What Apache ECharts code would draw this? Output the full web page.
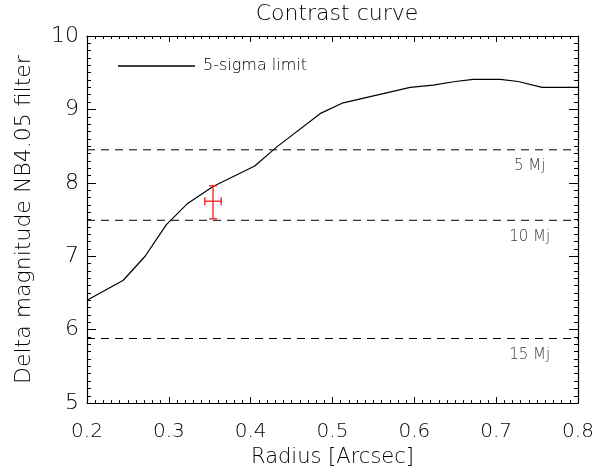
<!DOCTYPE html>
<html>
<head>
<meta charset="utf-8">
<script src="https://cdn.jsdelivr.net/npm/echarts@6/dist/echarts.min.js"></script>
<style>
  html, body { margin: 0; padding: 0; background: #fff; }
  #main { width: 616px; height: 473px; }
</style>
</head>
<body>
<div id="main"></div>
<script>
// contrast curve (5-sigma limit)
var radius = [0.2, 0.244, 0.271, 0.297, 0.323, 0.354, 0.405, 0.432, 0.486, 0.513, 0.595, 0.623, 0.650, 0.672, 0.705, 0.727, 0.756, 0.8];
var deltaMag = [6.40, 6.67, 7.00, 7.43, 7.72, 7.95, 8.23, 8.49, 8.95, 9.09, 9.30, 9.33, 9.38, 9.41, 9.41, 9.38, 9.30, 9.30];

// mass limits (horizontal dashed lines)
var massNames = ['5 Mj', '10 Mj', '15 Mj'];
var massLevels = [8.45, 7.49, 5.88];

// detected companion with error bars
var pointX = 0.354, pointY = 7.75;
var pointXErr = [0.344, 0.364];
var pointYErr = [7.51, 7.96];

var curveData = radius.map(function (r, i) { return [r, deltaMag[i]]; });

var fontName = 'DejaVu Sans';
var thin = 200;
var series = [
  {
    name: '5-sigma limit',
    type: 'line',
    data: curveData,
    symbol: 'none',
    lineStyle: { color: '#000', width: 1.2 },
    itemStyle: { color: '#000' },
    z: 3
  }
];

massLevels.forEach(function (lvl, i) {
  series.push({
    name: massNames[i],
    type: 'line',
    data: [[0.2, lvl], [0.8, lvl]],
    symbol: 'none',
    lineStyle: { color: '#000', width: 1, type: [8, 6] },
    silent: true,
    z: 2
  });
});

series.push({
  name: 'mass labels',
  type: 'scatter',
  symbolSize: 0,
  data: massLevels.map(function (lvl, i) { return { value: [0.741, lvl], name: massNames[i] }; }),
  label: {
    show: true,
    formatter: '{b}',
    position: 'bottom',
    distance: 9,
    color: '#000',
    fontFamily: fontName,
    fontWeight: thin,
    fontSize: 15
  },
  silent: true
});

series.push({
  name: 'companion',
  type: 'custom',
  data: [[pointX, pointY, pointXErr[0], pointXErr[1], pointYErr[0], pointYErr[1]]],
  renderItem: function (params, api) {
    var c = api.coord([api.value(0), api.value(1)]);
    var xl = api.coord([api.value(2), api.value(1)]);
    var xh = api.coord([api.value(3), api.value(1)]);
    var yl = api.coord([api.value(0), api.value(4)]);
    var yh = api.coord([api.value(0), api.value(5)]);
    var st = { stroke: '#f01818', lineWidth: 1.3 };
    var cap = 4;
    return {
      type: 'group',
      children: [
        { type: 'line', shape: { x1: yl[0], y1: yl[1], x2: yh[0], y2: yh[1] }, style: st },
        { type: 'line', shape: { x1: yl[0] - cap, y1: yl[1], x2: yl[0] + cap, y2: yl[1] }, style: st },
        { type: 'line', shape: { x1: yh[0] - cap, y1: yh[1], x2: yh[0] + cap, y2: yh[1] }, style: st },
        { type: 'line', shape: { x1: xl[0], y1: xl[1], x2: xh[0], y2: xh[1] }, style: st },
        { type: 'line', shape: { x1: xl[0], y1: c[1] - cap, x2: xl[0], y2: c[1] + cap }, style: st },
        { type: 'line', shape: { x1: xh[0], y1: c[1] - cap, x2: xh[0], y2: c[1] + cap }, style: st }
      ]
    };
  },
  z: 4
});

var axisLine = { show: true, onZero: false, lineStyle: { color: '#000', width: 1.2 } };
var chart = echarts.init(document.getElementById('main'));
var option = {
  backgroundColor: '#fff',
  animation: false,
  title: {
    text: 'Contrast curve',
    left: 332,
    textAlign: 'center',
    top: -2,
    textStyle: { fontFamily: fontName, fontWeight: thin, fontSize: 22, color: '#000' }
  },
  legend: {
    data: [{ name: '5-sigma limit', icon: 'rect' }],
    left: 113,
    top: 53,
    itemWidth: 77,
    itemHeight: 1.3,
    itemStyle: { color: '#000' },
    textStyle: { fontFamily: fontName, fontWeight: thin, fontSize: 16, color: '#000', padding: [0, 0, 0, 3] }
  },
  grid: { left: 87, right: 38, top: 36, bottom: 66 },
  xAxis: [
    {
      type: 'value', min: 0.2, max: 0.8, interval: 0.1,
      name: 'Radius [Arcsec]', nameLocation: 'middle', nameGap: 37,
      nameTextStyle: { fontFamily: fontName, fontWeight: thin, fontSize: 21, color: '#000' },
      axisLine: axisLine,
      axisTick: { inside: true, length: 6, lineStyle: { color: '#000' } },
      minorTick: { show: true, splitNumber: 10, length: 3, lineStyle: { color: '#000' } },
      axisLabel: { fontFamily: fontName, fontWeight: thin, fontSize: 20, color: '#000', margin: 19,
        formatter: function (v) { return v.toFixed(1); } },
      splitLine: { show: false }
    },
    {
      type: 'value', min: 0.2, max: 0.8, interval: 0.1, position: 'top',
      axisLine: axisLine,
      axisTick: { inside: true, length: 6, lineStyle: { color: '#000' } },
      minorTick: { show: true, splitNumber: 10, length: 3, lineStyle: { color: '#000' } },
      axisLabel: { show: false },
      splitLine: { show: false }
    }
  ],
  yAxis: [
    {
      type: 'value', min: 5, max: 10, interval: 1,
      name: 'Delta magnitude NB4.05 filter', nameLocation: 'middle', nameGap: 52,
      nameTextStyle: { fontFamily: fontName, fontWeight: thin, fontSize: 22, color: '#000' },
      axisLine: axisLine,
      axisTick: { inside: true, length: 9, lineStyle: { color: '#000' } },
      minorTick: { show: true, splitNumber: 10, length: 4, lineStyle: { color: '#000' } },
      axisLabel: { fontFamily: fontName, fontWeight: thin, fontSize: 22, color: '#000', margin: 8 },
      splitLine: { show: false }
    },
    {
      type: 'value', min: 5, max: 10, interval: 1, position: 'right',
      axisLine: axisLine,
      axisTick: { inside: true, length: 9, lineStyle: { color: '#000' } },
      minorTick: { show: true, splitNumber: 10, length: 4, lineStyle: { color: '#000' } },
      axisLabel: { show: false },
      splitLine: { show: false }
    }
  ],
  series: series
};
chart.setOption(option);
</script>
</body>
</html>
